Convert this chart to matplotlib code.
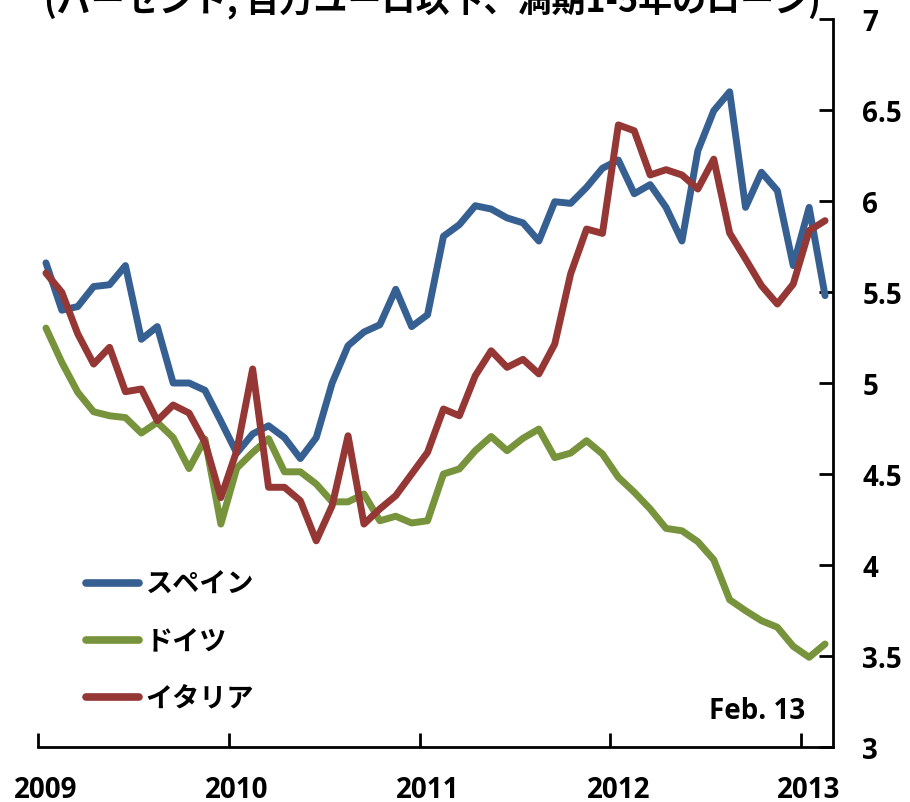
import numpy as np
import matplotlib
matplotlib.use("Agg")
import matplotlib.pyplot as plt

plt.rcParams['font.family'] = ['Noto Sans CJK JP', 'DejaVu Sans']

# 月次データ 2009年1月 - 2013年2月
start_year = 2009
n_months = 50
spain = [5.66, 5.40, 5.42, 5.53, 5.54, 5.645, 5.24, 5.31, 5.00, 5.00,
         4.96, 4.79, 4.615, 4.72, 4.765, 4.70, 4.585, 4.70, 5.00, 5.205,
         5.28, 5.32, 5.515, 5.31, 5.375, 5.806, 5.87, 5.974, 5.956, 5.907,
         5.88, 5.78, 5.996, 5.987, 6.075, 6.18, 6.225, 6.04, 6.09, 5.965,
         5.78, 6.276, 6.496, 6.60, 5.965, 6.158, 6.057, 5.645, 5.965, 5.48]
germany = [5.302, 5.113, 4.949, 4.842, 4.82, 4.81, 4.725, 4.784, 4.70, 4.53,
           4.692, 4.225, 4.532, 4.618, 4.694, 4.512, 4.512, 4.445, 4.347, 4.347,
           4.39, 4.243, 4.268, 4.231, 4.243, 4.5, 4.528, 4.628, 4.706, 4.628,
           4.696, 4.747, 4.59, 4.615, 4.683, 4.61, 4.482, 4.40, 4.308, 4.201,
           4.188, 4.128, 4.029, 3.809, 3.749, 3.694, 3.658, 3.553, 3.493, 3.566]
italy = [5.604, 5.498, 5.27, 5.104, 5.196, 4.952, 4.967, 4.793, 4.879, 4.835,
         4.674, 4.37, 4.628, 5.077, 4.427, 4.427, 4.353, 4.133, 4.326, 4.71,
         4.225, 4.308, 4.381, 4.50, 4.619, 4.857, 4.82, 5.04, 5.177, 5.086,
         5.13, 5.05, 5.214, 5.60, 5.846, 5.822, 6.418, 6.386, 6.143, 6.172,
         6.143, 6.066, 6.23, 5.824, 5.681, 5.535, 5.434, 5.544, 5.837, 5.892]
labels = ['スペイン', 'ドイツ', 'イタリア']
colors = ['#376092', '#77933C', '#953735']
years = [2009, 2010, 2011, 2012, 2013]
yticks = [3, 3.5, 4, 4.5, 5, 5.5, 6, 6.5, 7]
title = '(パーセント, 百万ユーロ以下、満期1-5年のローン)'

x = start_year + (np.arange(n_months) + 0.5) / 12
num_font = ['Open Sans', 'DejaVu Sans']

fig = plt.figure(figsize=(9.1, 8.03), dpi=100)
ax = fig.add_axes([38 / 910, 55 / 803, 795 / 910, 728 / 803])

for series, lab, c in zip([spain, germany, italy], labels, colors):
    ax.plot(x, series, color=c, lw=5, label=lab,
            solid_joinstyle='round', solid_capstyle='round')

ax.set_xlim(start_year, start_year + n_months / 12)
ax.set_ylim(3, 7)

ax.spines['left'].set_visible(False)
ax.spines['top'].set_visible(False)
ax.spines['right'].set_linewidth(2)
ax.spines['bottom'].set_linewidth(2)

# y軸は右側
ax.yaxis.tick_right()
ax.set_yticks(yticks)
ax.set_yticklabels([('%g' % v) for v in yticks])
ax.tick_params(axis='y', direction='in', length=10, width=2, pad=21)
for t in ax.get_yticklabels():
    t.set_horizontalalignment('left')

# 目盛りは年の境目、ラベルは1月の位置
ax.set_xticks(years)
ax.set_xticklabels([])
ax.set_xticks([y + 0.5 / 12 for y in years], minor=True)
ax.set_xticklabels([str(y) for y in years], minor=True)
ax.tick_params(axis='x', which='major', direction='in', length=10, width=2)
ax.tick_params(axis='x', which='minor', length=0, pad=20)

for t in ax.get_xticklabels(minor=True) + ax.get_yticklabels():
    t.set_fontfamily(num_font)
    t.set_fontweight('bold')
    t.set_fontsize(20)

leg = ax.legend(loc='upper left', bbox_to_anchor=(86 / 910, 1 - 571 / 803),
                bbox_transform=fig.transFigure, frameon=False,
                prop={'family': ['Noto Sans CJK JP'], 'size': 19.5, 'weight': 'bold'},
                handlelength=1.95, handletextpad=0.25, labelspacing=1.08,
                borderpad=0, borderaxespad=0)
for h in leg.get_lines():
    h.set_linewidth(5.5)
    h.set_solid_capstyle('round')

ax.text(0.965, 0.05, 'Feb. 13', transform=ax.transAxes, ha='right', va='center',
        fontsize=20, fontweight='bold', family=num_font)

fig.text(44 / 910, 1 - 11 / 803, title, ha='left', va='baseline',
         fontsize=24.5, fontweight='bold', style='italic')

fig.savefig('out.png', dpi=100)
